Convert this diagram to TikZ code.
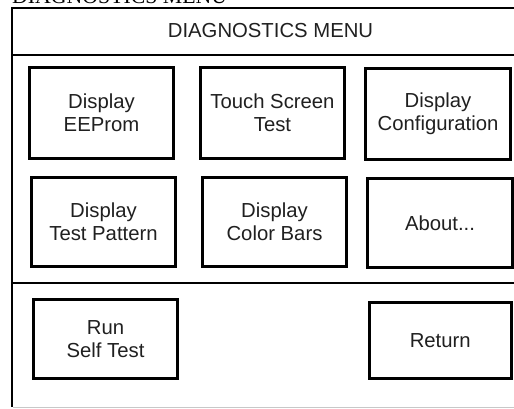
\documentclass[tikz,border=0pt]{standalone}
\usepackage{fontspec}
\setmainfont{Liberation Sans}
\newfontfamily\captionserif{Liberation Serif}
\definecolor{txt}{HTML}{202020}
\definecolor{bottomgray}{HTML}{C8C8C8}
\tikzset{
  button/.style={draw=black, line width=3pt, inner sep=0pt, align=center,
    text=txt, font=\fontsize{20.3}{23.4}\selectfont, minimum width=144pt},
  frameline/.style={draw=black, line width=1.8pt},
  headtext/.style={text=txt, font=\fontsize{20.3}{23.4}\selectfont, inner sep=0pt},
  captext/.style={text=black, font=\captionserif\fontsize{21.8}{24}\selectfont, inner sep=0pt}
}
\begin{document}
\begin{tikzpicture}[x=1pt, y=-1pt]
\clip (0,0) rectangle (514,409);
\fill[white] (0,0) rectangle (514,409);
% cut-off caption at the very top
\node[captext, anchor=base west] (caption) at (12,3.5) {DIAGNOSTICS MENU};
% frame
\draw[frameline] (540,8) -- (12,8) -- (12,407);
\draw[frameline] (12,55) -- (540,55);
\draw[frameline] (12,283) -- (540,283);
\draw[draw=bottomgray, line width=1.5pt] (13,407.5) -- (540,407.5);
% title
\node[headtext, anchor=base] (title) at (270.5,38) {DIAGNOSTICS MENU};
% buttons row 1
\node[button, minimum height=91pt] (eeprom) at (101.5,113) {Display\\EEProm};
\node[button, minimum height=91pt] (touch) at (272.5,113) {Touch Screen\\Test};
\node[button, minimum height=91pt, minimum width=144.5pt] (config) at (438,114) {Display\\Configuration};
% buttons row 2
\node[button, minimum height=89pt] (pattern) at (103.5,222) {Display\\Test Pattern};
\node[button, minimum height=89pt] (colorbars) at (274.5,222) {Display\\Color Bars};
\node[button, minimum height=89pt, minimum width=144.5pt] (about) at (440,223) {About...};
% bottom row
\node[button, minimum height=79pt] (selftest) at (105.5,339) {Run\\Self Test};
\node[button, minimum height=76pt, minimum width=141.5pt] (return) at (440.25,340.5) {Return};
\end{tikzpicture}
\end{document}
